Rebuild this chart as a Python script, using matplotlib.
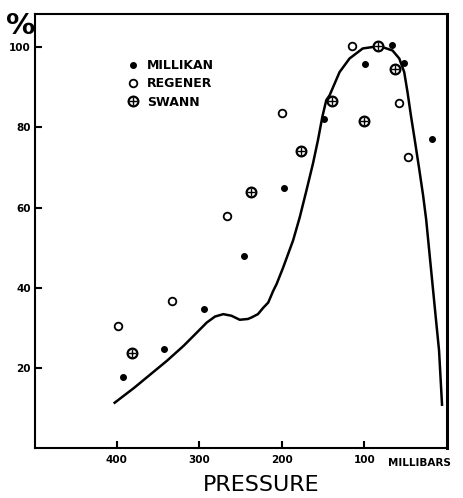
import matplotlib.pyplot as plt

# values (pressure in millibars, percent)
millikan_p = [392, 343, 294, 246, 198, 149, 99, 67, 52, 18]
millikan_v = [17.8, 24.8, 34.8, 48, 65, 82, 95.8, 100.5, 96, 77]

regener_p = [398, 333, 266, 200, 115, 58, 47]
regener_v = [30.5, 36.8, 57.8, 83.5, 100.2, 86.2, 72.5]

swann_p = [381, 237, 177, 139, 100, 83, 63]
swann_v = [23.8, 64, 74.2, 86.5, 81.5, 100.2, 94.5]

# hand-drawn curve
curve_p = [402.5, 379, 359, 339, 319, 303, 291, 281, 271, 261, 251, 241,
           236.5, 229, 222.5, 216.5, 210.5, 206.4, 198.5, 186.4, 178.3,
           170.3, 162.3, 156.3, 151, 146.2, 142.2, 130.1, 118, 102, 82, 66,
           57.8, 51.8, 47.8, 43.7, 38.6, 33.7, 28.9, 25.2, 21.4, 17.6, 13.6,
           9.6, 6]
curve_v = [11.3, 15, 18.4, 21.8, 25.5, 28.8, 31.3, 32.8, 33.4, 33.0, 32.0,
           32.2, 32.6, 33.4, 35.0, 36.3, 39.2, 40.9, 45.0, 51.8, 57.6, 64.2,
           71.0, 76.8, 82.6, 86.8, 88.0, 93.8, 97.2, 99.7, 100.3, 99.2, 97.2,
           93.8, 88.8, 83.0, 76.3, 69.7, 63.0, 57.0, 49.0, 41.0, 32.6, 24.3,
           10.8]

x_ticks = [400, 300, 200, 100]
x_labels = ['400', '300', '200', '100']
y_ticks = [20, 40, 60, 80, 100]
y_labels = ['20', '40', '60', '80', '100']

fig = plt.figure(figsize=(4.63, 4.98), dpi=100)
ax = fig.add_axes([0.0756, 0.1004, 0.8898, 0.8715])

ax.plot(curve_p, curve_v, color='black', lw=1.8, solid_joinstyle='round')

m1, = ax.plot(millikan_p, millikan_v, 'o', color='black', ms=4, ls='none')
m2, = ax.plot(regener_p, regener_v, 'o', mfc='white', mec='black', ms=5.5,
              mew=1.3, ls='none')
m3a, = ax.plot(swann_p, swann_v, 'o', mfc='white', mec='black', ms=7,
               mew=1.6, ls='none')
m3b, = ax.plot(swann_p, swann_v, '+', color='black', ms=6, mew=1.0, ls='none')

leg = ax.legend([m1, m2, (m3a, m3b)], ['MILLIKAN', 'REGENER', 'SWANN'],
                loc='upper left', bbox_to_anchor=(0.198, 0.922), frameon=False,
                handlelength=0.8, handletextpad=0.72, labelspacing=0.43,
                prop={'size': 9, 'weight': 'bold'})

ax.set_xlim(499, 0)
ax.set_ylim(0, 108.3)
ax.set_xticks(x_ticks, x_labels, fontweight='bold')
ax.set_yticks(y_ticks, y_labels, fontweight='bold')
ax.tick_params(direction='in', length=5, width=1.5, labelsize=7.5)
ax.tick_params(axis='x', pad=5)
ax.tick_params(axis='y', pad=3)

for side in ['left', 'bottom', 'top']:
    ax.spines[side].set_linewidth(1.5)
ax.spines['right'].set_linewidth(2.2)

ax.text(0.857, -0.022, 'MILLIBARS', transform=ax.transAxes, va='top',
        ha='left', fontsize=7.5, fontweight='bold')
fig.text(0.565, 0.026, 'PRESSURE', ha='center', va='center', fontsize=16)
fig.text(0.045, 0.947, '%', ha='center', va='center', fontsize=21,
         fontweight='bold')

fig.savefig('out.png', dpi=100)
